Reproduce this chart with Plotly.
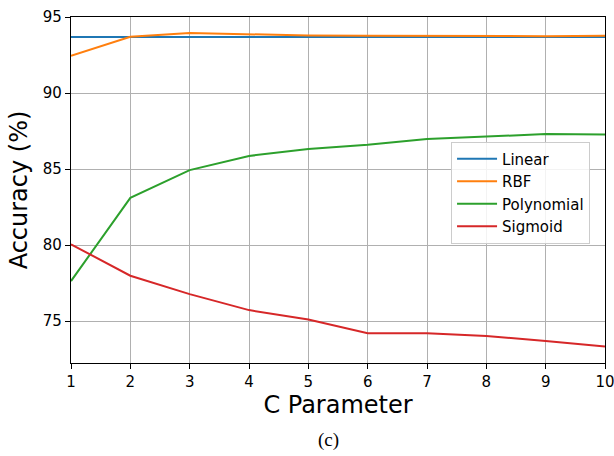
import plotly.graph_objects as go

c_values = [1, 2, 3, 4, 5, 6, 7, 8, 9, 10]
linear = [93.68, 93.68, 93.68, 93.68, 93.68, 93.68, 93.68, 93.68, 93.68, 93.68]
rbf = [92.45, 93.7, 93.95, 93.85, 93.78, 93.76, 93.74, 93.74, 93.74, 93.77]
polynomial = [77.63, 83.1, 84.93, 85.86, 86.32, 86.6, 86.97, 87.12, 87.3, 87.27]
sigmoid = [80.05, 77.98, 76.77, 75.72, 75.1, 74.2, 74.2, 74.02, 73.68, 73.32]

names = ["Linear", "RBF", "Polynomial", "Sigmoid"]
colors = ["#1f77b4", "#ff7f0e", "#2ca02c", "#d62728"]
series = [linear, rbf, polynomial, sigmoid]

fig = go.Figure()
for n, s, c in zip(names, series, colors):
    fig.add_trace(go.Scatter(x=c_values, y=s, mode="lines", name=n,
                             line=dict(color=c, width=2)))

axis_common = dict(showline=True, linecolor="black", linewidth=1.2, mirror=True,
                   ticks="outside", ticklen=5, tickcolor="black",
                   showgrid=True, gridcolor="#b0b0b0", gridwidth=1, zeroline=False,
                   ticklabeloverflow="allow", automargin=False,
                   tickfont=dict(family="DejaVu Sans", size=15, color="black"))

fig.update_layout(
    width=614, height=456,
    margin=dict(l=71, r=9, t=17, b=93),
    paper_bgcolor="white", plot_bgcolor="white",
    font=dict(family="DejaVu Sans", color="black"),
    xaxis=dict(range=[1, 10], tickvals=c_values,
               title=dict(text="C Parameter", font=dict(size=24), standoff=6),
               **axis_common),
    yaxis=dict(range=[72.24, 95], tickvals=[75, 80, 85, 90, 95],
               title=dict(text="Accuracy (%)", font=dict(size=24), standoff=8),
               **axis_common),
    legend=dict(x=0.972, y=0.64, xanchor="right", yanchor="top",
                bgcolor="rgba(255,255,255,0.85)", bordercolor="#cccccc", borderwidth=1,
                font=dict(family="DejaVu Sans", size=15), tracegroupgap=0,
                itemwidth=40),
    showlegend=True,
)

fig.add_annotation(text="(c)", xref="paper", yref="paper", x=0.483, y=-0.185,
                   yanchor="top", showarrow=False,
                   font=dict(family="Liberation Serif", size=19, color="black"))

fig.write_html("out.html")
